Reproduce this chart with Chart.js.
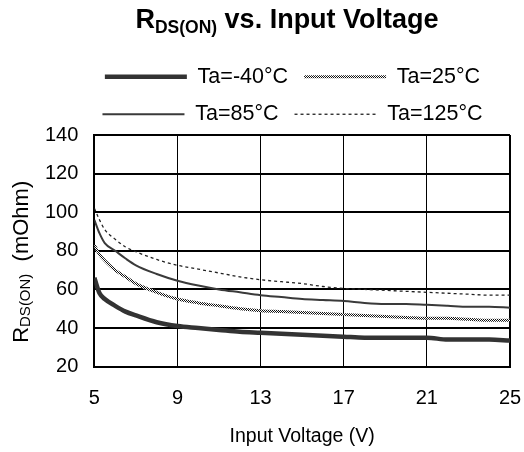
<!DOCTYPE html>
<html>
<head>
<meta charset="utf-8">
<script src="https://cdn.jsdelivr.net/npm/chart.js@4"></script>
<style>
  html, body { margin: 0; padding: 0; background: #fff; }
  #wrap { width: 524px; height: 452px; position: relative; }
</style>
</head>
<body>
<div id="wrap"><canvas id="rds-chart" width="524" height="452"></canvas></div>
<script>
// input voltage (V) sample points
const voltage = [5, 5.25, 5.5, 6, 6.5, 7, 8, 9, 10, 11, 12, 13, 14, 15, 16, 17, 18, 19, 20, 21, 22, 23, 24, 25];

// RDS(ON) in mOhm
const rdsM40 = [66, 58, 55, 51.5, 48.5, 46.5, 43, 41, 40, 39, 38, 37.5, 37, 36.5, 36, 35.5, 35, 35, 35, 35, 34, 34, 34, 33.5];
const rds25 = [83, 78, 75, 70, 66.5, 63, 58.5, 55, 53, 51.5, 50, 49, 48.5, 48, 47.5, 47, 46.5, 46, 45.5, 45, 45, 44.5, 44, 44];
const rds85 = [96, 89, 84, 80, 76, 72.5, 68, 64.5, 62, 60, 58.5, 57, 56, 55, 54.5, 54, 53, 52.5, 52.5, 52, 51.5, 51, 51, 50.5];
const rds125 = [102, 96, 91, 86, 82, 79.5, 75.5, 72.5, 70.5, 68.5, 66.5, 65, 64, 63, 61.5, 60.5, 60, 59.5, 59, 58.5, 58, 57.5, 57, 57];

const seriesLabels = ['Ta=-40°C', 'Ta=25°C', 'Ta=85°C', 'Ta=125°C'];
const xTicks = [5, 9, 13, 17, 21, 25];
const yTicks = [20, 40, 60, 80, 100, 120, 140];

const FONT = '"Liberation Sans", Arial, sans-serif';

function toPoints(ys) {
    return voltage.map((v, i) => ({ x: v, y: ys[i] }));
}

// small checker pattern for the 25C curve
function checkerPattern() {
    const c = document.createElement('canvas');
    c.width = 2; c.height = 2;
    const g = c.getContext('2d');
    g.fillStyle = '#fff';
    g.fillRect(0, 0, 2, 2);
    g.fillStyle = '#111';
    g.fillRect(0, 0, 1, 1);
    g.fillRect(1, 1, 1, 1);
    return g.createPattern(c, 'repeat');
}

const ctx = document.getElementById('rds-chart').getContext('2d');
const checker = checkerPattern();

// title and y axis title with subscripts
const textPlugin = {
    id: 'subscriptText',
    afterLayout(chart) {
        // nudge legend so it sits over the plot like the original
        chart.legend.left += 23;
        chart.legend.right += 23;
    },
    afterDraw(chart) {
        const c = chart.ctx;
        c.save();
        c.fillStyle = '#000';
        c.textBaseline = 'alphabetic';

        // title
        const big = 'bold 27px ' + FONT, small = 'bold 17.5px ' + FONT;
        c.font = big;
        const wR = c.measureText('R').width;
        const wRest = c.measureText(' vs. Input Voltage').width;
        c.font = small;
        const wSub = c.measureText('DS(ON)').width;
        let x = 287 - (wR + wSub + wRest) / 2;
        const base = 28;
        c.font = big; c.fillText('R', x, base); x += wR;
        c.font = small; c.fillText('DS(ON)', x, base + 5); x += wSub;
        c.font = big; c.fillText(' vs. Input Voltage', x, base);

        // y axis title
        const area = chart.chartArea;
        const f1 = '22px ' + FONT, f2 = '15px ' + FONT;
        c.font = f1;
        const a = c.measureText('R').width;
        const b2 = c.measureText('  (mOhm)').width;
        c.font = f2;
        const b1 = c.measureText('DS(ON)').width;
        c.translate(28, (area.top + area.bottom) / 2 + 11);
        c.rotate(-Math.PI / 2);
        let t = -(a + b1 + b2) / 2;
        c.font = f1; c.fillText('R', t, 0); t += a;
        c.font = f2; c.fillText('DS(ON)', t, 2); t += b1;
        c.font = f1; c.fillText('  (mOhm)', t, 0);
        c.restore();
    }
};

new Chart(ctx, {
    type: 'line',
    data: {
        datasets: [
            {
                label: seriesLabels[0],
                data: toPoints(rdsM40),
                borderColor: '#333',
                backgroundColor: 'transparent',
                borderWidth: 4.5,
                pointRadius: 0,
                cubicInterpolationMode: 'monotone'
            },
            {
                label: seriesLabels[1],
                data: toPoints(rds25),
                borderColor: checker,
                backgroundColor: 'transparent',
                borderWidth: 3,
                pointRadius: 0,
                cubicInterpolationMode: 'monotone'
            },
            {
                label: seriesLabels[2],
                data: toPoints(rds85),
                borderColor: '#3a3a3a',
                backgroundColor: 'transparent',
                borderWidth: 2,
                pointRadius: 0,
                cubicInterpolationMode: 'monotone'
            },
            {
                label: seriesLabels[3],
                data: toPoints(rds125),
                borderColor: '#222',
                backgroundColor: 'transparent',
                borderWidth: 1.3,
                borderDash: [3, 3],
                pointRadius: 0,
                cubicInterpolationMode: 'monotone'
            }
        ]
    },
    options: {
        responsive: false,
        animation: false,
        layout: { padding: { top: 50, left: 29, right: 14, bottom: 4 } },
        plugins: {
            tooltip: { enabled: false },
            legend: {
                display: true,
                position: 'top',
                labels: {
                    font: { family: FONT, size: 21.5 },
                    color: '#000',
                    usePointStyle: true,
                    pointStyle: 'line',
                    pointStyleWidth: 82,
                    padding: 16,
                    generateLabels: (chart) => {
                        const items = Chart.defaults.plugins.legend.labels.generateLabels(chart);
                        items.forEach(item => {
                            const ds = chart.data.datasets[item.datasetIndex];
                            item.lineDash = ds.borderDash || [];
                            item.lineWidth = ds.borderWidth;
                        });
                        return items;
                    }
                }
            }
        },
        scales: {
            x: {
                type: 'linear',
                min: xTicks[0],
                max: xTicks[xTicks.length - 1],
                afterBuildTicks: (axis) => { axis.ticks = xTicks.map(v => ({ value: v })); },
                ticks: { font: { family: FONT, size: 20 }, color: '#000', padding: 0, maxRotation: 0 },
                grid: {
                    color: '#000',
                    lineWidth: (c) => (c.tick && c.tick.value === 25 ? 2 : 1),
                    drawTicks: true,
                    tickLength: 20,
                    tickColor: 'transparent'
                },
                border: { display: true, color: '#000', width: 2 },
                title: {
                    display: true,
                    text: 'Input Voltage (V)',
                    font: { family: FONT, size: 19.5 },
                    color: '#000',
                    padding: { top: 14, bottom: 0 }
                }
            },
            y: {
                min: yTicks[0],
                max: yTicks[yTicks.length - 1],
                afterBuildTicks: (axis) => { axis.ticks = yTicks.map(v => ({ value: v })); },
                ticks: { font: { family: FONT, size: 20 }, color: '#000', padding: 16 },
                grid: { color: '#000', lineWidth: 2, drawTicks: false },
                border: { display: true, color: '#000', width: 2 }
            }
        }
    },
    plugins: [textPlugin]
});
</script>
</body>
</html>
